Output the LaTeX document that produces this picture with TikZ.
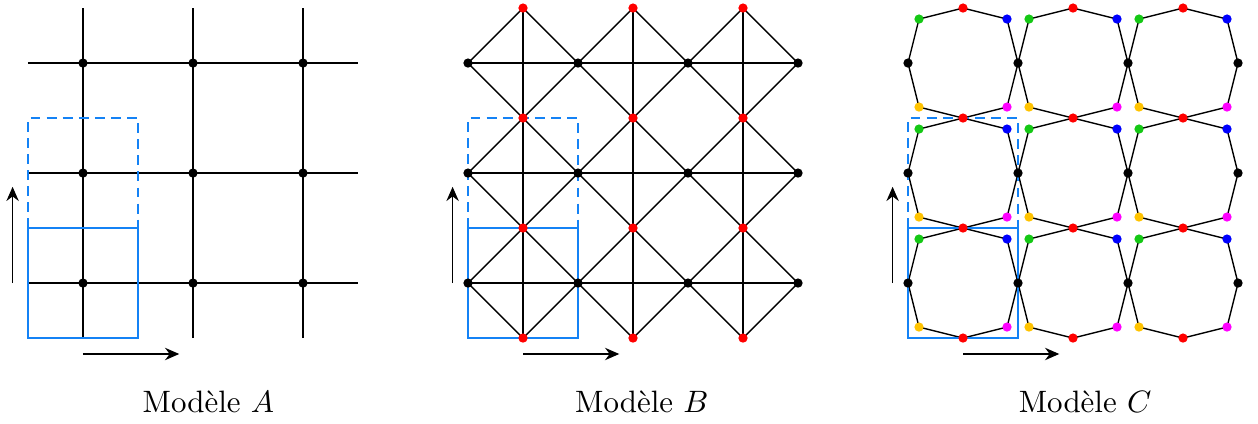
\documentclass[tikz,border=0pt]{standalone}
\usetikzlibrary{arrows.meta}

\definecolor{cellblue}{RGB}{20,130,245}
\definecolor{ptgreen}{RGB}{20,200,20}
\definecolor{ptyellow}{RGB}{255,195,0}
\definecolor{ptmagenta}{RGB}{255,0,255}

\begin{document}
\begin{tikzpicture}[
  x=1.25cm, y=1.25cm,
  bond/.style = {draw, black, line width=0.45pt},
  cell/.style = {draw=cellblue, semithick},
  nextcell/.style = {draw=cellblue, semithick, dash pattern=on 3.2pt off 2pt},
  shiftvec/.style = {line width=0.45pt, -{Stealth[length=4.6pt, width=4pt]}},
  pt/.style = {fill=#1},
  pt/.default = black,
  caption/.style = {anchor=base}
]
  \useasboundingbox (-0.2545,-0.773) rectangle (11.1818,3.073);

  % Model A : square lattice
  \begin{scope}
    \foreach \k in {0.5,1.5,2.5} {
      \draw[bond] (0,\k) -- (3,\k);
      \draw[bond] (\k,0) -- (\k,3);
    }
    \draw[nextcell] (0,1) rectangle (1,2);
    \draw[cell] (0,0) rectangle (1,1);
    \foreach \i in {0.5,1.5,2.5}
      \foreach \j in {0.5,1.5,2.5}
        \fill[pt] (\i,\j) circle[radius=1.5pt];
    \draw[shiftvec] (-0.14,0.5) -- (-0.14,1.375);
    \draw[shiftvec] (0.5,-0.145) -- (1.375,-0.145);
    \node[caption] (labA) at (1.64,-0.68) {Modèle $A$};
  \end{scope}

  % Model B : lattice with diamonds
  \begin{scope}[shift={(4,0)}]
    \foreach \k in {0.5,1.5,2.5} {
      \draw[bond] (0,\k) -- (3,\k);
      \draw[bond] (\k,0) -- (\k,3);
    }
    \foreach \i in {0,1,2}
      \foreach \j in {0,1,2}
        \draw[bond] (\i+0.5,\j) -- (\i+1,\j+0.5) -- (\i+0.5,\j+1) -- (\i,\j+0.5) -- cycle;
    \draw[nextcell] (0,1) rectangle (1,2);
    \draw[cell] (0,0) rectangle (1,1);
    \foreach \i in {0,1,2,3}
      \foreach \j in {0.5,1.5,2.5}
        \fill[pt] (\i,\j) circle[radius=1.5pt];
    \foreach \i in {0.5,1.5,2.5}
      \foreach \j in {0,1,2,3}
        \fill[pt=red] (\i,\j) circle[radius=1.5pt];
    \draw[shiftvec] (-0.14,0.5) -- (-0.14,1.375);
    \draw[shiftvec] (0.5,-0.145) -- (1.375,-0.145);
    \node[caption] (labB) at (1.58,-0.68) {Modèle $B$};
  \end{scope}

  % Model C : octagons
  \begin{scope}[shift={(8,0)}]
    \foreach \i in {0,1,2}
      \foreach \j in {0,1,2}
        \draw[bond] (\i+0.5,\j) -- (\i+0.9,\j+0.1) -- (\i+1,\j+0.5) -- (\i+0.9,\j+0.9)
          -- (\i+0.5,\j+1) -- (\i+0.1,\j+0.9) -- (\i,\j+0.5) -- (\i+0.1,\j+0.1) -- cycle;
    \draw[nextcell] (0,1) rectangle (1,2);
    \draw[cell] (0,0) rectangle (1,1);
    \foreach \i in {0,1,2}
      \foreach \j in {0,1,2} {
        \fill[pt=ptgreen] (\i+0.1,\j+0.9) circle[radius=1.5pt];
        \fill[pt=blue] (\i+0.9,\j+0.9) circle[radius=1.5pt];
        \fill[pt=ptyellow] (\i+0.1,\j+0.1) circle[radius=1.5pt];
        \fill[pt=ptmagenta] (\i+0.9,\j+0.1) circle[radius=1.5pt];
      }
    \foreach \i in {0,1,2,3}
      \foreach \j in {0.5,1.5,2.5}
        \fill[pt] (\i,\j) circle[radius=1.5pt];
    \foreach \i in {0.5,1.5,2.5}
      \foreach \j in {0,1,2,3}
        \fill[pt=red] (\i,\j) circle[radius=1.5pt];
    \draw[shiftvec] (-0.14,0.5) -- (-0.14,1.375);
    \draw[shiftvec] (0.5,-0.145) -- (1.375,-0.145);
    \node[caption] (labC) at (1.61,-0.68) {Modèle $C$};
  \end{scope}
\end{tikzpicture}
\end{document}
